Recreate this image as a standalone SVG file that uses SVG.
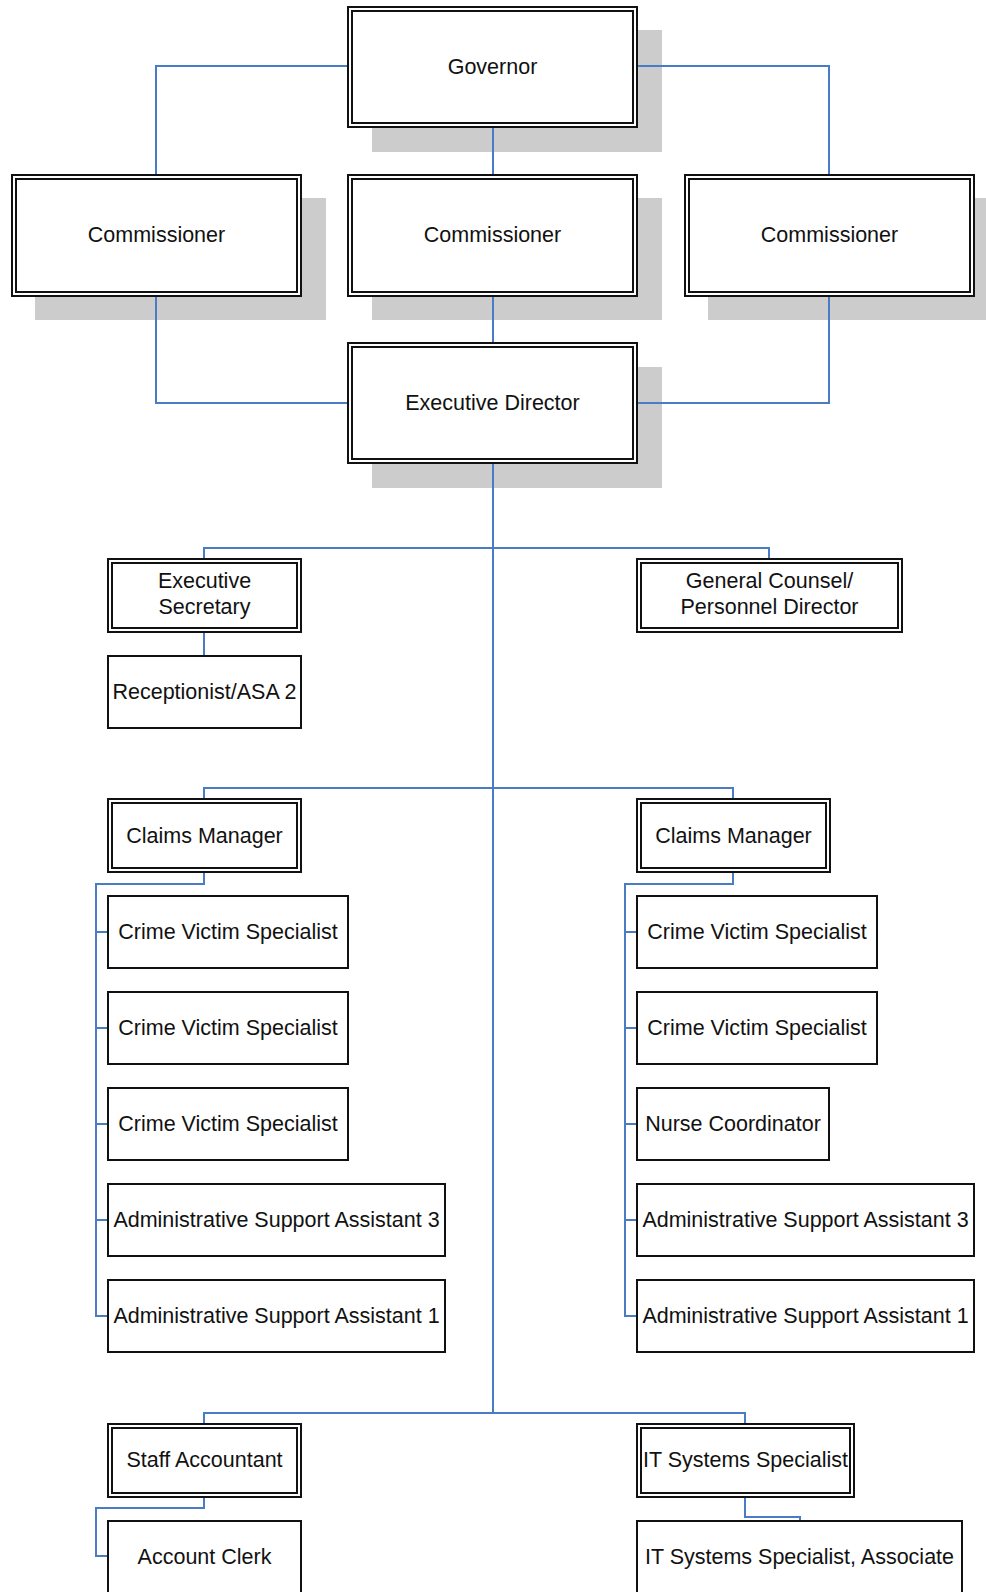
<svg xmlns="http://www.w3.org/2000/svg" width="986" height="1592" viewBox="0 0 986 1592">
<style>
.bg{fill:#ffffff}
.sh{fill:#cccccc}
.o{fill:#ffffff;stroke:#111111;stroke-width:2}
.i{fill:none;stroke:#111111;stroke-width:2}
.s{fill:#ffffff;stroke:#111111;stroke-width:2}
.c{fill:none;stroke:#4a7cc6;stroke-width:2}
text{font-family:"Liberation Sans",Arial,sans-serif;font-size:21.5px;fill:#111111;text-anchor:middle}
</style>
<rect class="bg" x="0" y="0" width="986" height="1592"/>
<g id="shadows">
<rect class="sh" x="372" y="30" width="290" height="122"/>
<rect class="sh" x="35" y="198" width="291" height="122"/>
<rect class="sh" x="372" y="198" width="290" height="122"/>
<rect class="sh" x="708" y="198" width="290" height="122"/>
<rect class="sh" x="372" y="367" width="290" height="121"/>
</g>
<g id="connectors">
<path class="c" d="M348,66 H156 V175"/>
<path class="c" d="M637,66 H829 V175"/>
<path class="c" d="M493,127 V175"/>
<path class="c" d="M156,296 V403 H348"/>
<path class="c" d="M493,296 V343"/>
<path class="c" d="M829,296 V403 H637"/>
<path class="c" d="M493,463 V1413"/>
<path class="c" d="M204,560 V548 H769 V560"/>
<path class="c" d="M204,632 V656"/>
<path class="c" d="M204,799 V788 H733 V799"/>
<path class="c" d="M204,872 V884 H96 V1316 H108 M96,932 H108 M96,1028 H108 M96,1124 H108 M96,1220 H108"/>
<path class="c" d="M733,872 V884 H625 V1316 H637 M625,932 H637 M625,1028 H637 M625,1124 H637 M625,1220 H637"/>
<path class="c" d="M204,1424 V1413 H745 V1424"/>
<path class="c" d="M204,1497 V1508 H96 V1556 H108"/>
<path class="c" d="M745,1497 V1517 H800 V1521"/>
</g>
<g id="governor">
<rect class="o" x="348" y="7" width="289" height="120"/><rect class="i" x="352" y="11" width="281" height="112"/>
<text x="492.5" y="74">Governor</text>
</g>
<g id="commissioner1">
<rect class="o" x="12" y="175" width="289" height="121"/><rect class="i" x="16" y="179" width="281" height="113"/>
<text x="156.5" y="242">Commissioner</text>
</g>
<g id="commissioner2">
<rect class="o" x="348" y="175" width="289" height="121"/><rect class="i" x="352" y="179" width="281" height="113"/>
<text x="492.5" y="242">Commissioner</text>
</g>
<g id="commissioner3">
<rect class="o" x="685" y="175" width="289" height="121"/><rect class="i" x="689" y="179" width="281" height="113"/>
<text x="829.5" y="242">Commissioner</text>
</g>
<g id="executive-director">
<rect class="o" x="348" y="343" width="289" height="120"/><rect class="i" x="352" y="347" width="281" height="112"/>
<text x="492.5" y="410">Executive Director</text>
</g>
<g id="executive-secretary">
<rect class="o" x="108" y="559" width="193" height="73"/><rect class="i" x="112" y="563" width="185" height="65"/>
<text x="204.5" y="588">Executive</text>
<text x="204.5" y="614">Secretary</text>
</g>
<g id="general-counsel">
<rect class="o" x="637" y="559" width="265" height="73"/><rect class="i" x="641" y="563" width="257" height="65"/>
<text x="769.5" y="588">General Counsel/</text>
<text x="769.5" y="614">Personnel Director</text>
</g>
<g id="receptionist">
<rect class="s" x="108" y="656" width="193" height="72"/>
<text x="204.5" y="699">Receptionist/ASA 2</text>
</g>
<g id="claims-manager-1">
<rect class="o" x="108" y="799" width="193" height="73"/><rect class="i" x="112" y="803" width="185" height="65"/>
<text x="204.5" y="843">Claims Manager</text>
</g>
<g id="claims-manager-2">
<rect class="o" x="637" y="799" width="193" height="73"/><rect class="i" x="641" y="803" width="185" height="65"/>
<text x="733.5" y="843">Claims Manager</text>
</g>
<g id="cvs-l1"><rect class="s" x="108" y="896" width="240" height="72"/><text x="228" y="939">Crime Victim Specialist</text></g>
<g id="cvs-l2"><rect class="s" x="108" y="992" width="240" height="72"/><text x="228" y="1035">Crime Victim Specialist</text></g>
<g id="cvs-l3"><rect class="s" x="108" y="1088" width="240" height="72"/><text x="228" y="1131">Crime Victim Specialist</text></g>
<g id="asa3-l"><rect class="s" x="108" y="1184" width="337" height="72"/><text x="276.5" y="1227">Administrative Support Assistant 3</text></g>
<g id="asa1-l"><rect class="s" x="108" y="1280" width="337" height="72"/><text x="276.5" y="1323">Administrative Support Assistant 1</text></g>
<g id="cvs-r1"><rect class="s" x="637" y="896" width="240" height="72"/><text x="757" y="939">Crime Victim Specialist</text></g>
<g id="cvs-r2"><rect class="s" x="637" y="992" width="240" height="72"/><text x="757" y="1035">Crime Victim Specialist</text></g>
<g id="nurse"><rect class="s" x="637" y="1088" width="192" height="72"/><text x="733" y="1131">Nurse Coordinator</text></g>
<g id="asa3-r"><rect class="s" x="637" y="1184" width="337" height="72"/><text x="805.5" y="1227">Administrative Support Assistant 3</text></g>
<g id="asa1-r"><rect class="s" x="637" y="1280" width="337" height="72"/><text x="805.5" y="1323">Administrative Support Assistant 1</text></g>
<g id="staff-accountant">
<rect class="o" x="108" y="1424" width="193" height="73"/><rect class="i" x="112" y="1428" width="185" height="65"/>
<text x="204.5" y="1467">Staff Accountant</text>
</g>
<g id="it-specialist">
<rect class="o" x="637" y="1424" width="217" height="73"/><rect class="i" x="641" y="1428" width="209" height="65"/>
<text x="745.5" y="1467">IT Systems Specialist</text>
</g>
<g id="account-clerk"><rect class="s" x="108" y="1521" width="193" height="76"/><text x="204.5" y="1564">Account Clerk</text></g>
<g id="it-associate"><rect class="s" x="637" y="1521" width="325" height="76"/><text x="799.5" y="1564">IT Systems Specialist, Associate</text></g>
</svg>
